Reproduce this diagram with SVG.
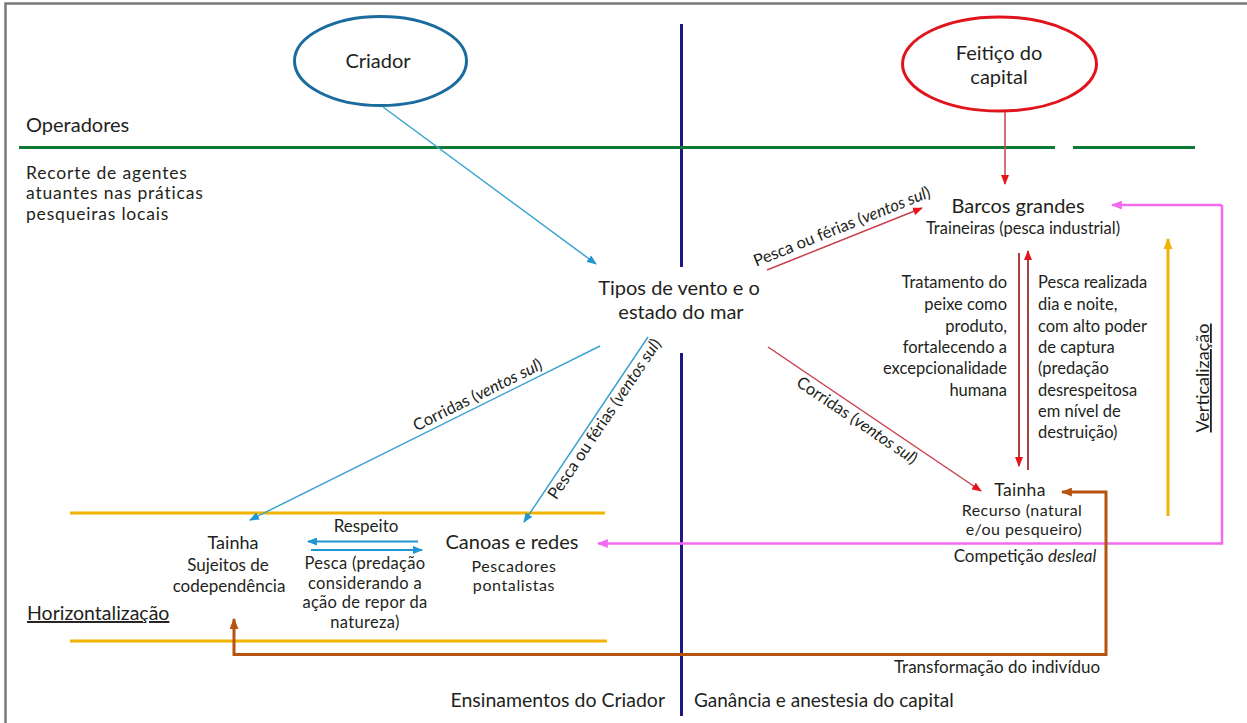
<svg xmlns="http://www.w3.org/2000/svg" width="1247" height="723" viewBox="0 0 1247 723">
<defs>
<style>
text{font-family:Lato,"Liberation Sans",sans-serif;fill:#231f20;}
.big{font-size:20px;}
.mid{font-size:18px;}
.sm{font-size:17px;}
.lbl{font-size:16.5px;}
.c{text-anchor:middle;}
.e{text-anchor:end;}
.it{font-style:italic;}
.ul{text-decoration:underline;}
.blue{stroke:#3aa3cf;stroke-width:1.5;fill:none;}
.blue2{stroke:#1f95d2;stroke-width:2;fill:none;}
.red{stroke:#c9414f;stroke-width:1.5;fill:none;}
.red2{stroke:#a8423f;stroke-width:2;fill:none;}
.pink{stroke:#f26bef;stroke-width:2.5;fill:none;}
.yel{stroke:#f1b300;stroke-width:3;fill:none;}
.brown{stroke:#b5530f;stroke-width:3;fill:none;}
</style>
<marker id="aBlue" viewBox="0 0 10 8" refX="9" refY="4" markerWidth="10" markerHeight="8" markerUnits="userSpaceOnUse" orient="auto"><path d="M0,0 L10,4 L0,8 Z" fill="#1f95d2"/></marker>
<marker id="aRed" viewBox="0 0 10 8" refX="9" refY="4" markerWidth="10" markerHeight="8" markerUnits="userSpaceOnUse" orient="auto"><path d="M0,0 L10,4 L0,8 Z" fill="#e8141c"/></marker>
<marker id="aPink" viewBox="0 0 10 8" refX="9" refY="4" markerWidth="11" markerHeight="9" markerUnits="userSpaceOnUse" orient="auto"><path d="M0,0 L10,4 L0,8 Z" fill="#f26bef"/></marker>
<marker id="aYel" viewBox="0 0 10 8" refX="9" refY="4" markerWidth="11" markerHeight="9" markerUnits="userSpaceOnUse" orient="auto"><path d="M0,0 L10,4 L0,8 Z" fill="#f1b300"/></marker>
<marker id="aBrown" viewBox="0 0 10 8" refX="9" refY="4" markerWidth="11" markerHeight="9" markerUnits="userSpaceOnUse" orient="auto-start-reverse"><path d="M0,0 L10,4 L0,8 Z" fill="#b5530f"/></marker>
</defs>
<rect width="1247" height="723" fill="#ffffff"/>
<path d="M5.5,723 V3.5 H1247" fill="none" stroke="#7a7a7a" stroke-width="2.5"/>

<g id="frame-lines">
<line x1="681.5" y1="24" x2="681.5" y2="267" stroke="#1c1a80" stroke-width="3"/>
<line x1="681.5" y1="353" x2="681.5" y2="716" stroke="#1c1a80" stroke-width="3"/>
<line x1="19" y1="147.5" x2="1055" y2="147.5" stroke="#0f7a36" stroke-width="3"/>
<line x1="1073" y1="147.5" x2="1195" y2="147.5" stroke="#0f7a36" stroke-width="3"/>
<line x1="70" y1="513" x2="605" y2="513" class="yel"/>
<line x1="70" y1="641" x2="607" y2="641" class="yel"/>
</g>

<g id="section-labels">
<text class="big" x="26" y="132">Operadores</text>
<text x="26" y="178.5" font-size="17.5" letter-spacing="0.8">Recorte de agentes</text>
<text x="26" y="199" font-size="17.5" letter-spacing="0.8">atuantes nas práticas</text>
<text x="26" y="219.5" font-size="17.5" letter-spacing="0.8">pesqueiras locais</text>
<text x="27" y="620" font-size="19.5" class="ul">Horizontalização</text>
<text class="mid ul c" transform="translate(1209,378) rotate(-90)">Verticalização</text>
<text class="e" x="665" y="707" font-size="19.5">Ensinamentos do Criador</text>
<text x="694" y="707" font-size="19">Ganância e anestesia do capital</text>
</g>

<g id="node-criador">
<ellipse cx="380.5" cy="61" rx="86" ry="44.5" fill="none" stroke="#1b6c9e" stroke-width="3"/>
<text class="big c" x="378" y="68">Criador</text>
</g>

<g id="node-feitico">
<ellipse cx="999.5" cy="64" rx="97" ry="47" fill="none" stroke="#e0141c" stroke-width="3"/>
<text class="big c" x="999" y="59.5">Feitiço do</text>
<text class="big c" x="999" y="83.5">capital</text>
</g>

<g id="node-tipos">
<text class="big c" x="679" y="295">Tipos de vento e o</text>
<text class="big c" x="681" y="318.5">estado do mar</text>
</g>

<g id="node-barcos">
<text class="big c" x="1018" y="213">Barcos grandes</text>
<text class="lbl c" x="1023" y="234">Traineiras (pesca industrial)</text>
</g>

<g id="node-tainha-recurso">
<text class="c" x="1020" y="496" font-size="17.5" letter-spacing="0.3">Tainha</text>
<text class="c" x="1022" y="516" font-size="16" letter-spacing="0.45">Recurso (natural</text>
<text class="c" x="1024" y="535" font-size="16" letter-spacing="0.45">e/ou pesqueiro)</text>
</g>

<g id="node-tainha-sujeitos">
<text class="mid c" x="233" y="549">Tainha</text>
<text class="sm c" x="228" y="571">Sujeitos de</text>
<text class="sm c" x="229" y="592">codependência</text>
</g>

<g id="node-canoas">
<text class="big c" x="512" y="549">Canoas e redes</text>
<text class="c" x="514" y="572" font-size="16" letter-spacing="0.6">Pescadores</text>
<text class="c" x="514" y="591" font-size="16" letter-spacing="0.6">pontalistas</text>
</g>

<g id="connectors">
<line x1="383" y1="107" x2="596" y2="264" class="blue" marker-end="url(#aBlue)"/>
<line x1="600" y1="346" x2="250" y2="520" class="blue" marker-end="url(#aBlue)"/>
<line x1="648" y1="337" x2="524" y2="522" class="blue" marker-end="url(#aBlue)"/>
<line x1="418" y1="541.5" x2="308" y2="541.5" class="blue2" marker-end="url(#aBlue)"/>
<line x1="311" y1="550" x2="422" y2="550" class="blue2" marker-end="url(#aBlue)"/>
<line x1="767" y1="270" x2="922" y2="208" class="red" marker-end="url(#aRed)"/>
<line x1="768" y1="347" x2="981" y2="491" class="red" marker-end="url(#aRed)"/>
<line x1="1005" y1="112" x2="1005" y2="184" class="red" stroke="#e3303c" marker-end="url(#aRed)"/>
<line x1="1019" y1="253" x2="1019" y2="466" class="red2" marker-end="url(#aRed)"/>
<line x1="1028" y1="470" x2="1028" y2="251" class="red2" marker-end="url(#aRed)"/>
<path d="M1222,205 V543.5 H598" class="pink" marker-end="url(#aPink)"/>
<line x1="1222" y1="205" x2="1112" y2="205" class="pink" marker-end="url(#aPink)"/>
<line x1="1168" y1="516" x2="1168" y2="239" class="yel" marker-end="url(#aYel)"/>
<path d="M1062,492 H1106 V654.5 H234 V619" class="brown" marker-start="url(#aBrown)" marker-end="url(#aBrown)"/>

<text class="lbl c" transform="translate(482.2,404.4) rotate(-26.4)" y="-5">Corridas (<tspan class="it">ventos sul</tspan>)</text>
<text class="lbl c" transform="translate(596.5,413.6) rotate(-56.1)" y="15">Pesca ou férias (<tspan class="it">ventos sul</tspan>)</text>
<text class="lbl c" transform="translate(846.5,238.2) rotate(-21.8)" y="-7">Pesca ou férias (<tspan class="it">ventos sul</tspan>)</text>
<text class="lbl c" transform="translate(863,411.7) rotate(34.2)" y="16">Corridas (<tspan class="it">ventos sul</tspan>)</text>

<text class="sm c" x="366" y="532">Respeito</text>
<text class="lbl c" x="365" y="569" letter-spacing="0.3">Pesca (predação</text>
<text class="lbl c" x="365" y="588.5" letter-spacing="0.3">considerando a</text>
<text class="lbl c" x="365" y="608" letter-spacing="0.3">ação de repor da</text>
<text class="lbl c" x="365" y="627.5" letter-spacing="0.3">natureza)</text>

<text class="lbl e" x="1007" y="288">Tratamento do</text>
<text class="lbl e" x="1007" y="310">peixe como</text>
<text class="lbl e" x="1007" y="332">produto,</text>
<text class="lbl e" x="1007" y="353">fortalecendo a</text>
<text class="lbl e" x="1007" y="374">excepcionalidade</text>
<text class="lbl e" x="1007" y="396">humana</text>

<text class="lbl" x="1038" y="288">Pesca realizada</text>
<text class="lbl" x="1038" y="310">dia e noite,</text>
<text class="lbl" x="1038" y="332">com alto poder</text>
<text class="lbl" x="1038" y="353">de captura</text>
<text class="lbl" x="1038" y="374">(predação</text>
<text class="lbl" x="1038" y="396">desrespeitosa</text>
<text class="lbl" x="1038" y="417">em nível de</text>
<text class="lbl" x="1038" y="438">destruição)</text>

<text class="sm c" x="1025" y="562">Competição <tspan class="it">desleal</tspan></text>
<text class="sm c" x="997" y="673">Transformação do indivíduo</text>
</g>
</svg>
